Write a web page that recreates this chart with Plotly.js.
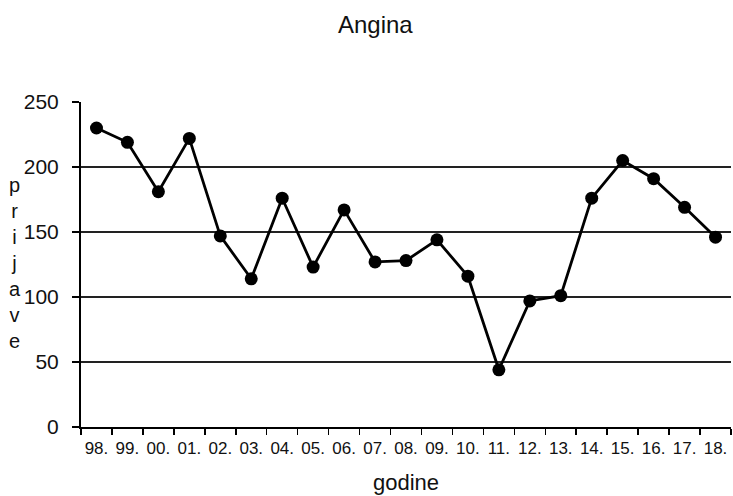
<!DOCTYPE html>
<html>
<head>
<meta charset="utf-8">
<script src="https://cdn.plot.ly/plotly-3.0.1.min.js"></script>
<style>html,body{margin:0;padding:0;background:#fff;}#chart{width:733px;height:496px;}</style>
</head>
<body>
<div id="chart"></div>
<script>
const years = ['98.','99.','00.','01.','02.','03.','04.','05.','06.','07.','08.','09.','10.','11.','12.','13.','14.','15.','16.','17.','18.'];
const prijave = [230, 219, 181, 222, 147, 114, 176, 123, 167, 127, 128, 144, 116, 44, 97, 101, 176, 205, 191, 169, 146];
const yTicks = [0, 50, 100, 150, 200, 250];

const font = 'Liberation Sans, Arial, sans-serif';

const trace = {
  x: years,
  y: prijave,
  type: 'scatter',
  mode: 'lines+markers',
  line: {color: '#000', width: 2.8},
  marker: {color: '#000', size: 13},
  showlegend: false,
  cliponaxis: false
};

const layout = {
  width: 733,
  height: 496,
  margin: {l: 81, r: 2, t: 102, b: 69},
  paper_bgcolor: '#fff',
  plot_bgcolor: '#fff',
  font: {family: font, color: '#111'},
  title: {text: 'Angina', x: 0.512, xref: 'container', y: 0.95, yref: 'container', yanchor: 'middle', font: {size: 24, family: font, color: '#111'}},
  xaxis: {
    type: 'category',
    range: [-0.5, 20.5],
    tickson: 'boundaries',
    ticks: 'outside',
    ticklen: 6,
    tickwidth: 1.5,
    tickcolor: '#000',
    tickangle: 0,
    ticklabelstandoff: 5,
    showline: true,
    linecolor: '#000',
    linewidth: 2,
    showgrid: false,
    zeroline: false,
    tickfont: {size: 17, family: font, color: '#111'},
    title: {text: 'godine', standoff: 17, font: {size: 22, family: font, color: '#111'}}
  },
  yaxis: {
    range: [0, 250],
    tickvals: yTicks,
    ticktext: yTicks.map(String),
    ticks: 'outside',
    ticklen: 7,
    tickwidth: 1.5,
    tickcolor: '#000',
    showline: true,
    linecolor: '#000',
    linewidth: 2,
    showgrid: true,
    gridcolor: '#222',
    gridwidth: 1.5,
    zeroline: false,
    tickfont: {size: 21, family: font, color: '#111'},
    ticklabelstandoff: 9
  },
  annotations: [{
    text: 'p<br>r<br>i<br>j<br>a<br>v<br>e',
    xref: 'paper', yref: 'paper',
    x: -0.101, y: 0.505,
    xanchor: 'center', yanchor: 'middle',
    showarrow: false,
    align: 'center',
    font: {size: 20, family: font, color: '#111'}
  }]
};

Plotly.newPlot('chart', [trace], layout, {displayModeBar: false, staticPlot: true});
</script>
</body>
</html>
